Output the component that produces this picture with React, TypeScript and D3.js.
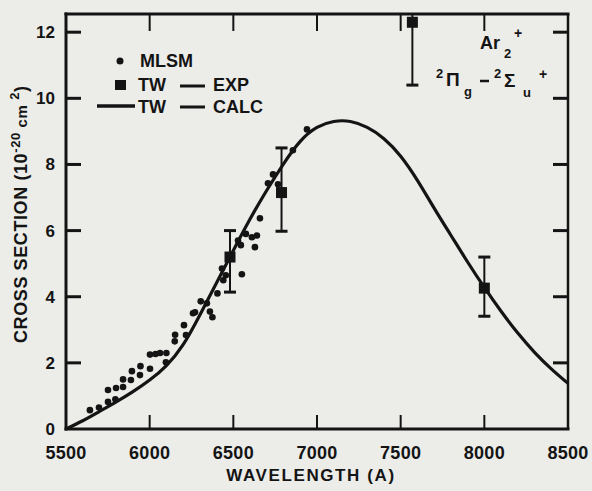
import React from "react";
import * as d3 from "d3";

const calcLambda = [5500, 5600, 5700, 5800, 5900, 6000, 6100, 6200, 6300, 6400, 6500, 6600, 6700, 6800, 6900, 7000, 7100, 7200, 7300, 7400, 7500, 7600, 7700, 7800, 7900, 8000, 8100, 8200, 8300, 8400, 8500];
const calcValue = [0, 0.25, 0.53, 0.82, 1.13, 1.48, 1.92, 2.55, 3.45, 4.42, 5.4, 6.35, 7.22, 8.02, 8.7, 9.12, 9.3, 9.3, 9.12, 8.78, 8.25, 7.52, 6.68, 5.86, 5.05, 4.28, 3.56, 2.9, 2.32, 1.82, 1.38];

const mlsmLambda = [5643, 5697, 5751, 5751, 5795, 5799, 5841, 5841, 5888, 5894, 5942, 5945, 6002, 6002, 6035, 6062, 6100, 6097, 6150, 6152, 6205, 6217, 6259, 6271, 6305, 6342, 6360, 6375, 6405, 6432, 6440, 6455, 6528, 6551, 6545, 6575, 6611, 6629, 6641, 6659, 6707, 6737, 6767, 6856, 6940];
const mlsmValue = [0.57, 0.65, 0.82, 1.18, 0.9, 1.24, 1.27, 1.5, 1.48, 1.75, 1.63, 1.9, 1.82, 2.25, 2.27, 2.3, 2.3, 2.02, 2.65, 2.85, 3.14, 2.84, 3.5, 3.53, 3.86, 3.8, 3.55, 3.38, 4.1, 4.85, 4.5, 4.65, 5.7, 4.68, 5.56, 5.9, 5.8, 5.5, 5.85, 6.37, 7.43, 7.7, 7.4, 8.43, 9.06];

const expLambda = [6480, 6788, 7570, 8000];
const expValue = [5.2, 7.15, 12.3, 4.26];
const expLow = [4.14, 5.98, 10.4, 3.41];
const expHigh = [6.0, 8.5, 12.55, 5.2];

const xTicks = [5500, 6000, 6500, 7000, 7500, 8000, 8500];
const yTicks = [0, 2, 4, 6, 8, 10, 12];

const INK = "#141414";
const BG = "#ecece9";
const FONT = "'Liberation Sans', Arial, Helvetica, sans-serif";

export default function App() {
  const W = 592, H = 491;
  const x = d3.scaleLinear().domain([5500, 8500]).range([66, 568]);
  const y = d3.scaleLinear().domain([0, 12.55]).range([429, 14]);
  const line = d3
    .line<number>()
    .x((_, i) => x(calcLambda[i]))
    .y((v) => y(v))
    .curve(d3.curveNatural);
  const path = line(calcValue) || "";
  const [x0, x1] = x.range();
  const [y0, y1] = y.range();

  return (
    <svg width={W} height={H} style={{ position: "absolute", left: 0, top: 0 }} fontFamily={FONT}>
      <rect x={0} y={0} width={W} height={H} fill={BG} />
      {/* calculated curve */}
      <path d={path} fill="none" stroke={INK} strokeWidth={3.2} />
      {/* MLSM dots */}
      {mlsmLambda.map((l, i) => (
        <circle key={"m" + i} cx={x(l)} cy={y(mlsmValue[i])} r={3.3} fill={INK} />
      ))}
      {/* EXP points with error bars */}
      {expLambda.map((l, i) => {
        const cx = x(l);
        return (
          <g key={"e" + i}>
            <line x1={cx} x2={cx} y1={y(expLow[i])} y2={y(expHigh[i])} stroke={INK} strokeWidth={2} />
            <line x1={cx - 6} x2={cx + 6} y1={y(expLow[i])} y2={y(expLow[i])} stroke={INK} strokeWidth={3} />
            {expHigh[i] < 12.5 && (
              <line x1={cx - 6} x2={cx + 6} y1={y(expHigh[i])} y2={y(expHigh[i])} stroke={INK} strokeWidth={3} />
            )}
            <rect x={cx - 5.5} y={y(expValue[i]) - 5.5} width={11} height={11} fill={INK} />
          </g>
        );
      })}
      {/* frame */}
      <line x1={x0} x2={x0} y1={y1 - 1.5} y2={y0 + 1.5} stroke={INK} strokeWidth={3} />
      <line x1={x0 - 1.5} x2={x1 + 1.5} y1={y0} y2={y0} stroke={INK} strokeWidth={3} />
      <line x1={x0 - 1.5} x2={x1 + 1.5} y1={y1} y2={y1} stroke={INK} strokeWidth={3} />
      <line x1={x1} x2={x1} y1={y1} y2={y0} stroke={INK} strokeWidth={2.5} />
      {/* ticks */}
      {xTicks.slice(1, -1).map((t) => (
        <g key={"xt" + t}>
          <line x1={x(t)} x2={x(t)} y1={y0} y2={y0 - 14} stroke={INK} strokeWidth={2} />
          <line x1={x(t)} x2={x(t)} y1={y1} y2={y1 + 17} stroke={INK} strokeWidth={2} />
        </g>
      ))}
      {yTicks.slice(1).map((t) => (
        <g key={"yt" + t}>
          <line x1={x0} x2={x0 + 15} y1={y(t)} y2={y(t)} stroke={INK} strokeWidth={3} />
          <line x1={x1} x2={x1 - 15} y1={y(t)} y2={y(t)} stroke={INK} strokeWidth={3} />
        </g>
      ))}
      {/* tick labels */}
      {xTicks.map((t) => (
        <text key={"xl" + t} x={x(t)} y={459} textAnchor="middle" fontSize={18} fontWeight="bold" fill={INK} letterSpacing={0.3}>
          {t}
        </text>
      ))}
      {yTicks.map((t) => (
        <text key={"yl" + t} x={55} y={y(t) + 6} textAnchor="end" fontSize={17} fontWeight="bold" fill={INK}>
          {t}
        </text>
      ))}
      {/* axis titles */}
      <text x={311} y={481} textAnchor="middle" fontSize={17} fontWeight="bold" fill={INK} letterSpacing={1.6}>
        WAVELENGTH (A)
      </text>
      <text transform="translate(27,343) rotate(-90)" fontSize={18} fontWeight="bold" fill={INK} letterSpacing={0.6}>
        CROSS SECTION (10
        <tspan fontSize={13} dy={-7}>-20</tspan>
        <tspan fontSize={15} dy={7}> cm </tspan>
        <tspan fontSize={13} dy={-8}>2</tspan>
        <tspan dy={8}>)</tspan>
      </text>
      {/* legend */}
      <circle cx={120} cy={61} r={3.5} fill={INK} />
      <text x={140} y={67} fontSize={18} fontWeight="bold" fill={INK}>MLSM</text>
      <rect x={115} y={80} width={11} height={10} fill={INK} />
      <text x={138} y={91} fontSize={18} fontWeight="bold" fill={INK}>TW</text>
      <line x1={180} x2={205} y1={86} y2={86} stroke={INK} strokeWidth={3} />
      <text x={213} y={91} fontSize={18} fontWeight="bold" fill={INK}>EXP</text>
      <line x1={97} x2={135} y1={106} y2={106} stroke={INK} strokeWidth={3.5} />
      <text x={138} y={113} fontSize={18} fontWeight="bold" fill={INK}>TW</text>
      <line x1={180} x2={205} y1={107} y2={107} stroke={INK} strokeWidth={3} />
      <text x={213} y={113} fontSize={18} fontWeight="bold" fill={INK}>CALC</text>
      {/* annotation */}
      <text x={480} y={49} fontSize={18} fontWeight="bold" fill={INK}>Ar</text>
      <text x={504} y={58} fontSize={13} fontWeight="bold" fill={INK}>2</text>
      <text x={514} y={38} fontSize={14} fontWeight="bold" fill={INK}>+</text>
      <text x={436} y={78} fontSize={13} fontWeight="bold" fill={INK}>2</text>
      <text x={446} y={86} fontSize={19} fontWeight="bold" fill={INK}>Π</text>
      <text x={464} y={96} fontSize={13} fontWeight="bold" fill={INK}>g</text>
      <line x1={480} x2={489} y1={81} y2={81} stroke={INK} strokeWidth={2.5} />
      <text x={494} y={78} fontSize={13} fontWeight="bold" fill={INK}>2</text>
      <text x={504} y={87} fontSize={19} fontWeight="bold" fill={INK}>Σ</text>
      <text x={523} y={97} fontSize={13} fontWeight="bold" fill={INK}>u</text>
      <text x={539} y={79} fontSize={14} fontWeight="bold" fill={INK}>+</text>
    </svg>
  );
}
